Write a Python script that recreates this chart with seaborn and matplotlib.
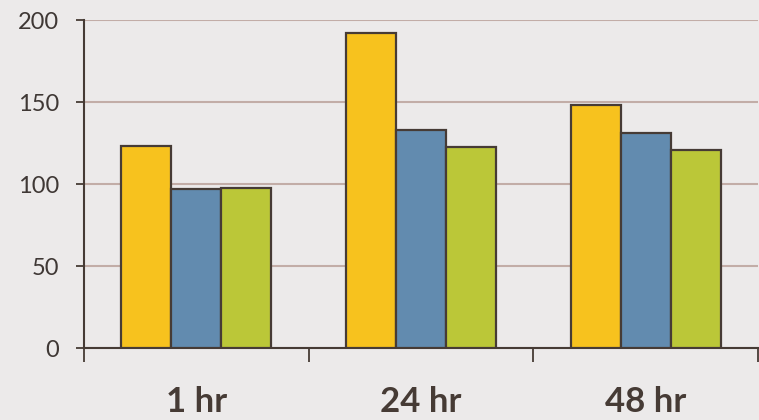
import matplotlib
matplotlib.use("Agg")
import matplotlib.pyplot as plt
import seaborn as sns
import pandas as pd

# Measurements at three time points, three series each
time_points = ["1 hr", "24 hr", "48 hr"]
series_names = ["A", "B", "C"]
series_a = [123.3, 191.9, 148.5]
series_b = [96.8, 133.3, 131.5]
series_c = [97.4, 122.7, 121.1]
y_ticks = [0, 50, 100, 150, 200]

colors = ["#F7C21E", "#628BAF", "#BBC738"]
ink = "#463B35"
grid_color = "#C2ADA7"
bg = "#ECEAEA"

df = pd.DataFrame({
    "time": time_points * 3,
    "series": [s for s in series_names for _ in time_points],
    "value": series_a + series_b + series_c,
})

sns.set_theme(style="white")
plt.rcParams["font.family"] = ["Lato", "DejaVu Sans"]

fig = plt.figure(figsize=(7.59, 4.20), dpi=100, facecolor=bg)
ax = fig.add_axes([0.1107, 0.1707, 0.8880, 0.7813])
ax.set_facecolor(bg)

sns.barplot(data=df, x="time", y="value", hue="series", order=time_points,
            hue_order=series_names, palette=colors, saturation=1, width=0.667,
            edgecolor=ink, linewidth=1.6, legend=False, ax=ax, zorder=3)

ax.set_ylim(0, 200)
ax.set_xlim(-0.5, 2.5)
ax.set_yticks(y_ticks)
ax.set_yticklabels([str(v) for v in y_ticks], fontsize=17, color="#3F3835")
ax.yaxis.grid(True, color=grid_color, linewidth=1.5, zorder=0)
ax.set_axisbelow(True)

ax.set_xticks(range(len(time_points)))
ax.set_xticklabels(time_points, fontsize=25, fontweight="bold", color=ink)
ax.set_xticks([-0.5, 0.5, 1.5, 2.5], minor=True)
ax.tick_params(axis="x", which="major", length=0, pad=27)
ax.tick_params(axis="x", which="minor", length=10, width=1.3, color=ink,
               direction="out", bottom=True)
ax.tick_params(axis="y", which="major", length=6, width=1.3, color=ink,
               direction="out", left=True, pad=12)

ax.set_xlabel("")
ax.set_ylabel("")
for side in ["top", "right"]:
    ax.spines[side].set_visible(False)
for side in ["left", "bottom"]:
    ax.spines[side].set_color(ink)
    ax.spines[side].set_linewidth(1.5)

fig.savefig("out.png", dpi=100, facecolor=bg)
